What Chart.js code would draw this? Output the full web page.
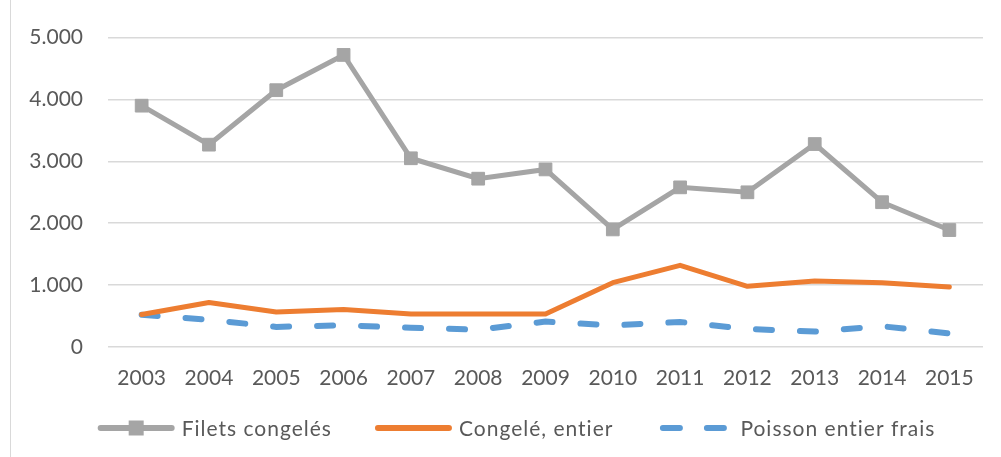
<!DOCTYPE html>
<html>
<head>
<meta charset="utf-8">
<script src="https://cdn.jsdelivr.net/npm/chart.js"></script>
<style>
  html, body { margin: 0; padding: 0; background: #fff; }
  #wrap { position: relative; width: 1001px; height: 457px; }
  #edge { position: absolute; left: 10px; top: 0; width: 1px; height: 457px; background: #d9d9d9; }
</style>
</head>
<body>
<div id="wrap">
  <div id="edge"></div>
  <canvas id="myChart" width="1001" height="457"></canvas>
</div>
<script>
var years = ["2003", "2004", "2005", "2006", "2007", "2008", "2009", "2010", "2011", "2012", "2013", "2014", "2015"];
var filetsCongeles = [3900, 3270, 4150, 4720, 3050, 2720, 2870, 1900, 2580, 2500, 3280, 2340, 1890];
var congeleEntier = [525, 720, 565, 605, 535, 535, 535, 1040, 1320, 980, 1065, 1040, 970];
var poissonFrais = [520, 440, 325, 350, 310, 280, 410, 350, 405, 290, 250, 335, 220];
var yTicks = [0, 1000, 2000, 3000, 4000, 5000];

var grey = '#a5a5a5';
var orange = '#ed7d31';
var blue = '#5b9bd5';
var textColor = '#595959';
var font = 'Lato';

// legend drawn by hand: Excel style line samples, wide spacing
var excelLegend = {
  id: 'excelLegend',
  afterDraw: function (chart) {
    var c = chart.ctx;
    var sets = chart.data.datasets;
    var lineLen = 77, gapText = 7, gapItem = 43, y = 428;
    c.save();
    c.font = '21px ' + font;
    c.letterSpacing = '1px';
    var widths = sets.map(function (d) { return lineLen + gapText + c.measureText(d.label).width; });
    var total = widths.reduce(function (a, b) { return a + b; }, 0) + gapItem * (sets.length - 1);
    var x = 516.5 - total / 2;
    sets.forEach(function (d, i) {
      c.strokeStyle = d.borderColor;
      c.lineWidth = 6;
      c.lineCap = 'round';
      if (d.borderDash) {
        c.setLineDash([17, 27]);
        c.lineDashOffset = -3.5;
      } else {
        c.setLineDash([]);
      }
      c.beginPath();
      c.moveTo(x + 3, y);
      c.lineTo(x + lineLen - 3, y);
      c.stroke();
      c.setLineDash([]);
      if (d.pointStyle === 'rect') {
        c.fillStyle = d.borderColor;
        c.fillRect(x + lineLen / 2 - 7.5, y - 7.5, 15, 15);
      }
      c.fillStyle = textColor;
      c.textBaseline = 'middle';
      c.textAlign = 'left';
      c.fillText(d.label, x + lineLen + gapText, y + 1);
      x += widths[i] + gapItem;
    });
    c.restore();
  }
};

var ctx = document.getElementById('myChart').getContext('2d');
var lineChart = new Chart(ctx, {
  type: 'line',
  data: {
    labels: years,
    datasets: [{
      label: "Filets congelés",
      data: filetsCongeles,
      borderColor: grey,
      backgroundColor: grey,
      borderWidth: 5,
      pointStyle: 'rect',
      pointRadius: 9,
      pointBorderWidth: 1,
      pointBackgroundColor: grey,
      pointBorderColor: grey,
      lineTension: 0
    }, {
      label: "Congelé, entier",
      data: congeleEntier,
      borderColor: orange,
      backgroundColor: orange,
      borderWidth: 5,
      borderCapStyle: 'round',
      borderJoinStyle: 'round',
      pointRadius: 0,
      lineTension: 0
    }, {
      label: "Poisson entier frais",
      data: poissonFrais,
      borderColor: blue,
      backgroundColor: blue,
      borderWidth: 6,
      borderDash: [16, 28],
      borderCapStyle: 'round',
      pointRadius: 0,
      lineTension: 0
    }]
  },
  options: {
    responsive: false,
    animation: false,
    layout: { padding: { left: 20, right: 18, top: 30, bottom: 60 } },
    plugins: {
      tooltip: { enabled: false },
      legend: { display: false }
    },
    scales: {
      x: {
        offset: true,
        afterFit: function (s) { s.height = 50; },
        grid: { display: false },
        border: { display: false },
        ticks: {
          color: textColor,
          font: { family: font, size: 21 },
          padding: 11,
          maxRotation: 0
        }
      },
      y: {
        min: 0,
        max: 5000,
        afterFit: function (s) { s.width = 88; },
        afterBuildTicks: function (s) {
          s.ticks = yTicks.map(function (v) { return { value: v }; });
        },
        grid: { color: '#d9d9d9', lineWidth: 1.5, drawTicks: false },
        border: { display: false },
        ticks: {
          color: textColor,
          font: { family: font, size: 21 },
          padding: 25,
          callback: function (v) { return v === 0 ? '0' : (v / 1000).toFixed(3); }
        }
      }
    }
  },
  plugins: [excelLegend]
});
</script>
</body>
</html>
